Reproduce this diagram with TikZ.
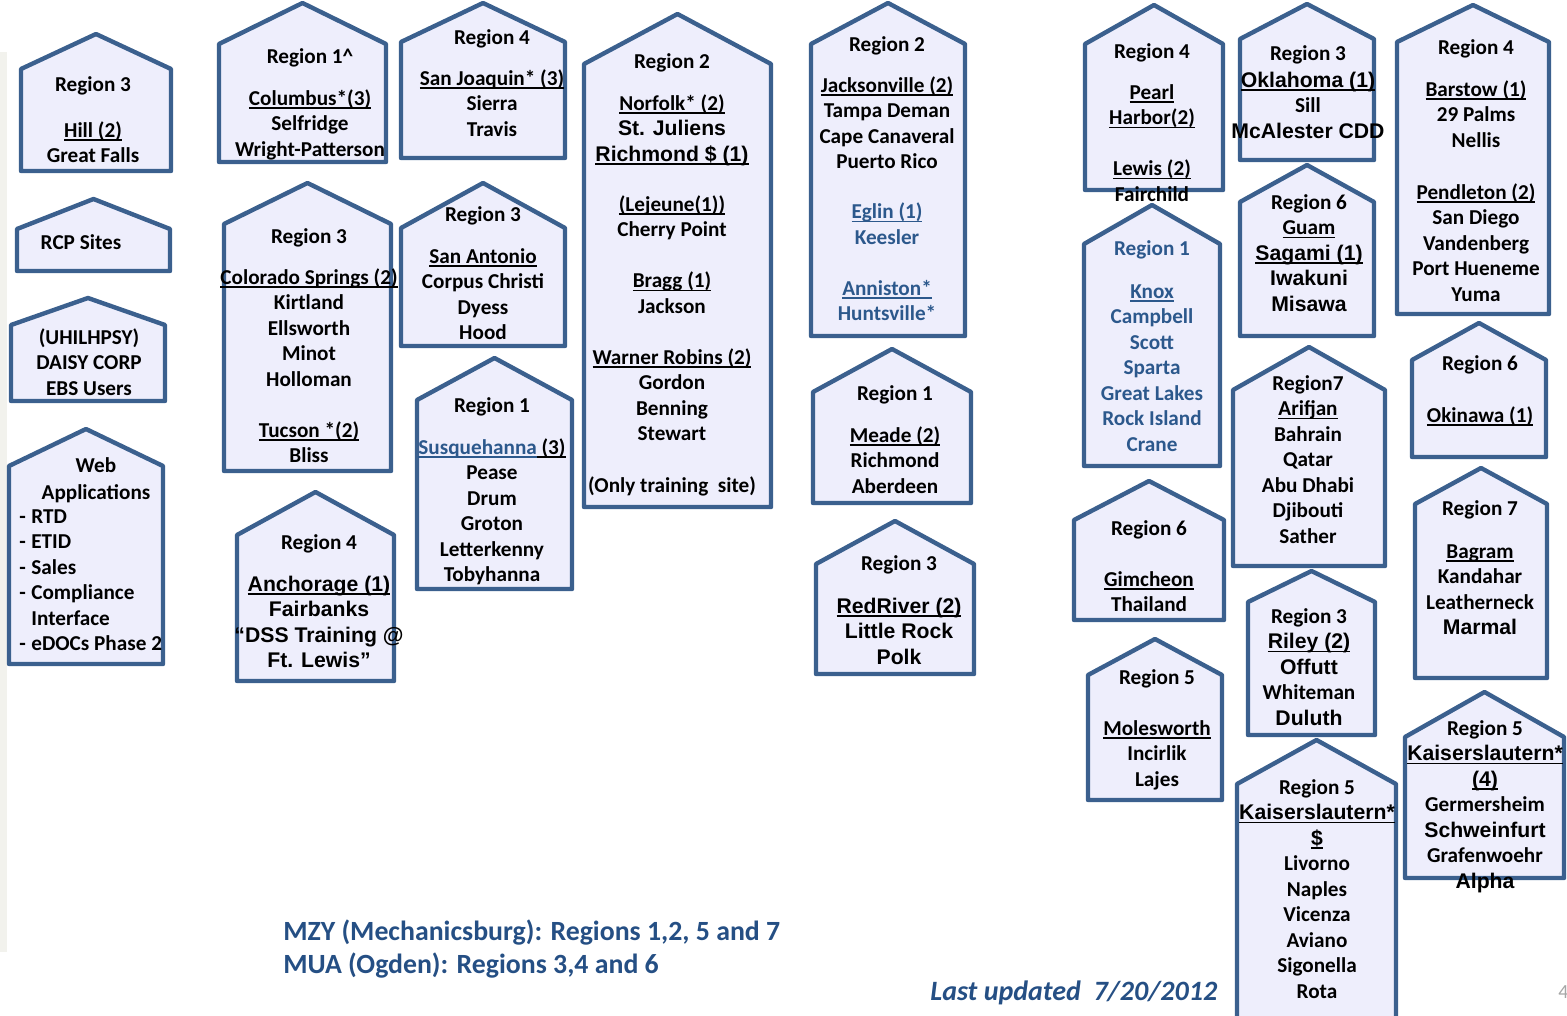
\documentclass[tikz,border=0pt]{standalone}
\usepackage{fontspec}
\setmainfont{Carlito}
\newfontfamily\arialf{Liberation Sans}
\definecolor{hsborder}{RGB}{59,96,142}
\definecolor{hsfill}{RGB}{238,238,252}
\definecolor{tblue}{RGB}{44,88,140}
\definecolor{nblue}{RGB}{37,79,132}
\definecolor{stripgray}{RGB}{242,242,237}
\newcommand\ul[1]{\setbox0=\hbox{#1}\rlap{\rule[-1.7pt]{\wd0}{0.75pt}}\box0}
\newcommand\A[1]{{\arialf\bfseries #1}}
\newcommand\drawhouse[5]{\draw[hs] (#1,#5) -- (#1,#4) -- ({(#1+#2)/2},#3) -- (#2,#4) -- (#2,#5) -- cycle;}
\begin{document}
\begin{tikzpicture}[x=0.5pt,y=-0.5pt,
  hs/.style={draw=hsborder, fill=hsfill, line width=2.2pt, line join=round},
  txt/.style={anchor=north, inner sep=0pt, align=center, yshift=-1.5pt,
    font=\fontsize{10.6}{12.75}\selectfont\bfseries, execute at begin node=\strut},
  note/.style={anchor=base west, inner sep=0pt, text=nblue}]
\useasboundingbox (0,0) rectangle (1567,1016);
\fill[stripgray] (0,52) rectangle (7,952);

% column 1
\drawhouse{21}{171}{34}{69}{171}
\node[txt] (tA) at (93,73.5) {Region 3\\[10pt]\ul{Hill (2)}\\Great Falls};
\drawhouse{17}{170}{199}{229}{271}
\node[txt] (tC) at (81,228) {RCP Sites};
\drawhouse{11}{165}{298}{325}{401}
\node[txt] (tD) at (89,325) {(UHILHPSY)\\DAISY CORP\\EBS Users};
\drawhouse{9}{163}{429}{466}{664}
\node[txt] (tF1) at (96,454) {Web\\[0.75pt]Applications};
\node[txt, anchor=north west, align=left] (tF2) at (19,506) {\makebox[6pt][l]{-}RTD\\\makebox[6pt][l]{-}ETID\\\makebox[6pt][l]{-}Sales\\\makebox[6pt][l]{-}Compliance\\\makebox[6pt][l]{}Interface\\\makebox[6pt][l]{-}eDOCs Phase 2};

% column 2
\drawhouse{219}{386}{3}{44}{162}
\node[txt] (tE) at (310,45) {Region 1\textasciicircum\\[8.25pt]\ul{Columbus*(3)}\\Selfridge\\Wright-Patterson};
\drawhouse{224}{391}{183}{224}{471}
\node[txt] (tG) at (309,225) {Region 3\\[7.75pt]\ul{Colorado Springs (2)}\\Kirtland\\Ellsworth\\Minot\\Holloman\\[12.75pt]\ul{Tucson *(2)}\\Bliss};
\drawhouse{237}{394}{492}{535}{681}
\node[txt] (tJ) at (319,531) {Region 4\\[8.25pt]\ul{\A{Anchorage (1)}}\\\A{Fairbanks}\\\A{“DSS Training @}\\\A{Ft. Lewis”}};

% column 3
\drawhouse{401}{565}{3}{42}{158}
\node[txt] (tB) at (492,26) {Region 4\\[7.75pt]\ul{San Joaquin* (3)}\\Sierra\\Travis};
\drawhouse{401}{565}{183}{228}{346}
\node[txt] (tH) at (483,203) {Region 3\\[8.25pt]\ul{San Antonio}\\Corpus Christi\\Dyess\\Hood};
\drawhouse{417}{572}{358}{400}{589}
\node[txt] (tI) at (492,394) {Region 1\\[8.25pt]{\color{tblue}\ul{Susquehanna}}\ul{ (3)}\\Pease\\Drum\\Groton\\Letterkenny\\Tobyhanna};

% column 4
\drawhouse{584}{771}{14}{64}{507}
\node[txt] (tK) at (672,50) {Region 2\\[8.25pt]\ul{Norfolk* (2)}\\\A{St. Juliens}\\\ul{\A{Richmond \$ (1)}}\\[12.25pt]\ul{(Lejeune(1))}\\Cherry Point\\[12.75pt]\ul{Bragg (1)}\\Jackson\\[12.75pt]\ul{Warner Robins (2)}\\Gordon\\Benning\\Stewart\\[13.25pt](Only training\ \ site)};

% column 5
\drawhouse{811}{965}{3}{44}{336}
\node[txt] (tL) at (887,33) {Region 2\\[7.75pt]\ul{Jacksonville (2)}\\Tampa Deman\\Cape Canaveral\\Puerto Rico\\[12.25pt]{\color{tblue}\ul{Eglin (1)}}\\{\color{tblue}Keesler}\\[12.75pt]{\color{tblue}\ul{Anniston*}}\\{\color{tblue}Huntsville*}};
\drawhouse{813}{971}{349}{392}{503}
\node[txt] (tM) at (895,382) {Region 1\\[8.25pt]\ul{Meade (2)}\\Richmond\\Aberdeen};
\drawhouse{816}{974}{521}{564}{674}
\node[txt] (tN) at (899,552) {Region 3\\[8.75pt]\ul{\A{RedRiver (2)}}\\\A{Little Rock}\\\A{Polk}};

% column 6
\drawhouse{1085}{1223}{5}{44}{190}
\node[txt] (tO) at (1152,40) {Region 4\\[7.75pt]\ul{Pearl}\\\ul{Harbor(2)}\\[12.75pt]\ul{Lewis (2)}\\Fairchild};
\drawhouse{1084}{1220}{205}{244}{466}
\node[txt, text=tblue] (tR) at (1152,237) {Region 1\\[8.75pt]\ul{Knox}\\Campbell\\Scott\\Sparta\\Great Lakes\\Rock Island\\Crane};
\drawhouse{1074}{1224}{481}{520}{620}
\node[txt] (tU) at (1149,517) {Region 6\\[12.75pt]\ul{Gimcheon}\\Thailand};
\drawhouse{1088}{1222}{639}{675}{800}
\node[txt] (tY) at (1157,666) {Region 5\\[12.75pt]\ul{Molesworth}\\Incirlik\\Lajes};

% column 7
\drawhouse{1240}{1374}{4}{39}{160}
\node[txt] (tP) at (1308,42) {Region 3\\[0.75pt]\ul{\A{Oklahoma (1)}}\\Sill\\\A{McAlester CDD}};
\drawhouse{1240}{1374}{165}{202}{336}
\node[txt] (tS) at (1309,191) {Region 6\\\ul{Guam}\\\ul{\A{Sagami (1)}}\\\A{Iwakuni}\\\A{Misawa}};
\drawhouse{1233}{1385}{347}{390}{566}
\node[txt] (tV) at (1308,372) {Region7\\\ul{Arifjan}\\Bahrain\\Qatar\\Abu Dhabi\\Djibouti\\Sather};
\drawhouse{1248}{1375}{571}{602}{735}
\node[txt] (tX) at (1309,605) {Region 3\\\ul{\A{Riley (2)}}\\\A{Offutt}\\Whiteman\\\A{Duluth}};
\drawhouse{1237}{1396}{740}{784}{1030}
\node[txt] (tZ2) at (1317,776) {Region 5\\\ul{\A{Kaiserslautern*}}\\\ul{\A{\$}}\\Livorno\\Naples\\Vicenza\\Aviano\\Sigonella\\Rota};

% column 8
\drawhouse{1397}{1549}{5}{42}{314}
\node[txt] (tQ) at (1476,36) {Region 4\\[8.25pt]\ul{Barstow (1)}\\29 Palms\\Nellis\\[13.25pt]\ul{Pendleton (2)}\\San Diego\\Vandenberg\\Port Hueneme\\Yuma};
\drawhouse{1412}{1546}{323}{360}{457}
\node[txt] (tT) at (1480,352) {Region 6\\[13.25pt]\ul{Okinawa (1)}};
\drawhouse{1415}{1547}{468}{504}{678}
\node[txt] (tW) at (1480,497) {Region 7\\[8.75pt]\ul{Bagram}\\Kandahar\\Leatherneck\\\A{Marmal}};
\drawhouse{1405}{1564}{692}{737}{878}
\node[txt] (tZ1) at (1485,717) {Region 5\\\ul{\A{Kaiserslautern*}}\\\ul{\A{(4)}}\\Germersheim\\\A{Schweinfurt}\\Grafenwoehr\\\A{Alpha}};

% notes
\node[note, font=\fontsize{13.9}{16}\selectfont\bfseries] (mzy) at (283,940) {MZY (Mechanicsburg): Regions 1,2, 5 and 7};
\node[note, font=\fontsize{13.9}{16}\selectfont\bfseries] (mua) at (283,973) {MUA (Ogden): Regions 3,4 and 6};
\node[note, font=\fontsize{14}{16}\selectfont\bfseries\itshape] (upd) at (930,1000) {Last updated\ \ 7/20/2012};
\node[anchor=base west, inner sep=0pt, text=gray!70, font=\fontsize{10}{12}\selectfont] (pg) at (1558,998) {4};
\end{tikzpicture}
\end{document}
